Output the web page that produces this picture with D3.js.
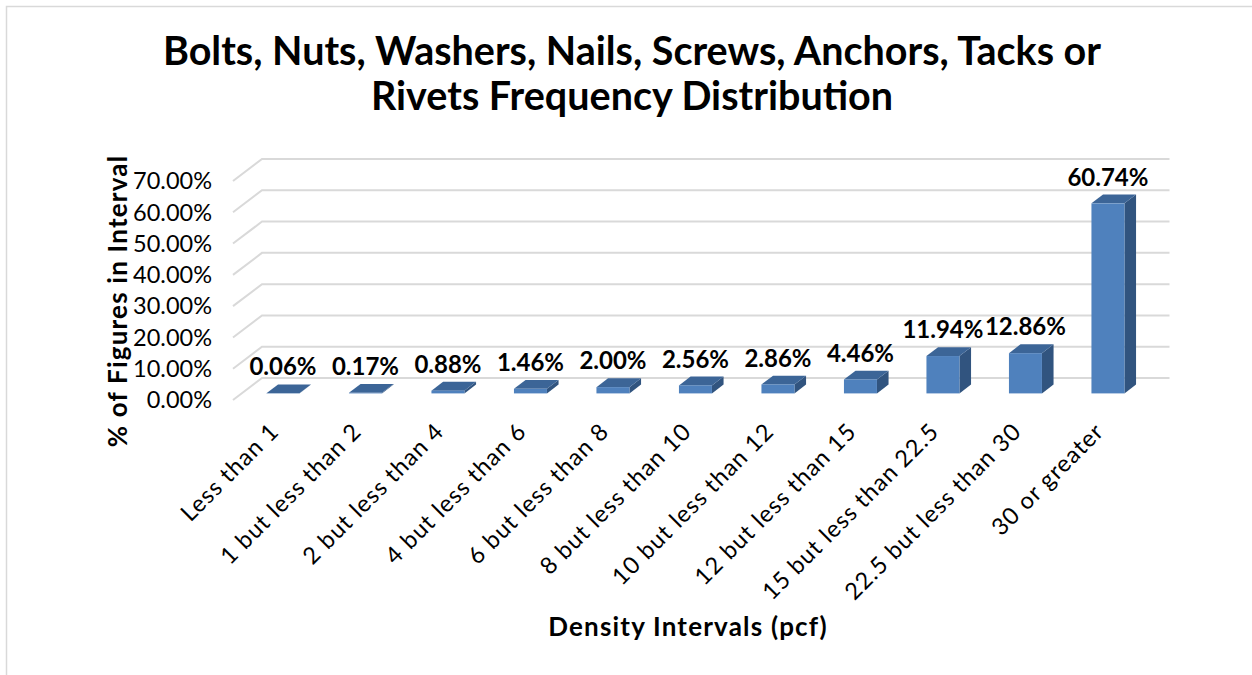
<!DOCTYPE html>
<meta charset="utf-8">
<head>
    <title>Bolts, Nuts, Washers frequency distribution</title>
    <script src="https://d3js.org/d3.v7.min.js"></script>
    <style>
        body { margin: 0; background: #ffffff; }
        text { font-family: "Century Gothic", "Lato", sans-serif; fill: #000000; }
    </style>
</head>
<body>
<div id="my_dataviz"></div>
<script>

// data
var categories = ["Less than 1", "1 but less than 2", "2 but less than 4", "4 but less than 6",
    "6 but less than 8", "8 but less than 10", "10 but less than 12", "12 but less than 15",
    "15 but less than 22.5", "22.5 but less than 30", "30 or greater"];
var values = [0.06, 0.17, 0.88, 1.46, 2.00, 2.56, 2.86, 4.46, 11.94, 12.86, 60.74];
var yTicks = [0, 10, 20, 30, 40, 50, 60, 70];
var titleLines = ["Bolts, Nuts, Washers, Nails, Screws, Anchors, Tacks or", "Rivets Frequency Distribution"];
var xTitle = "Density Intervals (pcf)";
var yTitle = "% of Figures in Interval";

var width = 1252, height = 675;

var svg = d3.select("#my_dataviz")
    .append("svg")
    .attr("width", width)
    .attr("height", height);

// chart area border
svg.append("rect")
    .attr("x", 6.5).attr("y", 6.5)
    .attr("width", 1300).attr("height", 700)
    .attr("fill", "none")
    .attr("stroke", "#d9d9d9")
    .attr("stroke-width", 1.5);

// 3D depth of the plot box, and of the bars inside it
var dx = 29, dy = -22;
var barFront = 0.3, barDepth = 0.4;

// scales on the front plane
var x = d3.scaleBand()
    .domain(categories)
    .range([233, 1140.5])
    .paddingInner(0.6)
    .paddingOuter(0.3);

var y = d3.scaleLinear()
    .domain([0, 70])
    .range([400, 181]);

// gridlines: side wall diagonal + back wall line
svg.append("g")
    .selectAll("path")
    .data(yTicks)
    .enter()
    .append("path")
        .attr("d", function(t) {
            var x0 = x.range()[0], x1 = x.range()[1], yy = y(t);
            return "M" + x0 + "," + yy + "L" + (x0 + dx) + "," + (yy + dy) + "L" + (x1 + dx) + "," + (yy + dy);
        })
        .attr("fill", "none")
        .attr("stroke", "#d9d9d9")
        .attr("stroke-width", 2);

// y tick labels
svg.append("g")
    .selectAll("text")
    .data(yTicks)
    .enter()
    .append("text")
        .attr("x", 212)
        .attr("y", function(t) { return y(t); })
        .attr("dy", "0.35em")
        .attr("text-anchor", "end")
        .style("font-size", "23.5px")
        .text(function(t) { return t.toFixed(2) + "%"; });

// bars
var bw = x.bandwidth();
var ox = barFront * dx, oy = barFront * dy;
var bdx = barDepth * dx, bdy = barDepth * dy;

var bars = svg.append("g")
    .selectAll("g")
    .data(values)
    .enter()
    .append("g");

bars.append("path")   // side face
    .attr("d", function(d, i) {
        var x0 = x(categories[i]) + ox + bw, yt = y(d) + oy, yb = y(0) + oy;
        return "M" + x0 + "," + yt + "L" + (x0 + bdx) + "," + (yt + bdy) +
            "L" + (x0 + bdx) + "," + (yb + bdy) + "L" + x0 + "," + yb + "Z";
    })
    .attr("fill", "#31547f");

bars.append("path")   // top face
    .attr("d", function(d, i) {
        var x0 = x(categories[i]) + ox, yt = y(d) + oy;
        return "M" + x0 + "," + yt + "L" + (x0 + bw) + "," + yt +
            "L" + (x0 + bw + bdx) + "," + (yt + bdy) + "L" + (x0 + bdx) + "," + (yt + bdy) + "Z";
    })
    .attr("fill", "#3c6597");

bars.append("rect")   // front face
    .attr("x", function(d, i) { return x(categories[i]) + ox; })
    .attr("y", function(d) { return y(d) + oy; })
    .attr("width", bw)
    .attr("height", function(d) { return y(0) - y(d); })
    .attr("fill", "#4f81bd");

// data labels
svg.append("g")
    .selectAll("text")
    .data(values)
    .enter()
    .append("text")
        .attr("x", function(d, i) { return x(categories[i]) + bw / 2 + ox; })
        .attr("y", function(d) { return y(d) + oy + bdy - 9; })
        .attr("text-anchor", "middle")
        .style("font-size", "24px")
        .style("font-weight", "bold")
        .text(function(d) { return d.toFixed(2) + "%"; });

// category labels, rotated
svg.append("g")
    .selectAll("text")
    .data(categories)
    .enter()
    .append("text")
        .attr("transform", function(c) {
            return "translate(" + (x(c) + bw / 2 + 6) + ",433) rotate(-45)";
        })
        .attr("text-anchor", "end")
        .style("font-size", "23.5px")
        .style("letter-spacing", "1px")
        .text(function(c) { return c; });

// title
svg.append("g")
    .selectAll("text")
    .data(titleLines)
    .enter()
    .append("text")
        .attr("x", 632)
        .attr("y", function(d, i) { return 65 + i * 45; })
        .attr("text-anchor", "middle")
        .style("font-size", "39.5px")
        .style("font-weight", "bold")
        .text(function(d) { return d; });

// axis titles
svg.append("text")
    .attr("x", 688)
    .attr("y", 636)
    .attr("text-anchor", "middle")
    .style("font-size", "26px")
    .style("font-weight", "bold")
    .style("letter-spacing", "1.2px")
    .text(xTitle);

svg.append("text")
    .attr("transform", "translate(127,301) rotate(-90)")
    .attr("text-anchor", "middle")
    .style("font-size", "26px")
    .style("font-weight", "bold")
    .style("letter-spacing", "1.2px")
    .text(yTitle);

</script>
</body>
</html>
